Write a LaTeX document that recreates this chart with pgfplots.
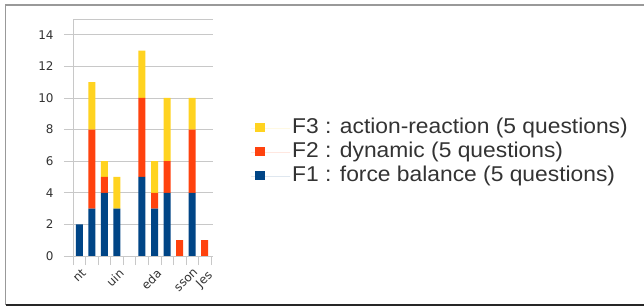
\documentclass[border=0pt]{standalone}
\usepackage{pgfplots}
\pgfplotsset{compat=1.18}
\usepackage{fontspec}
\setmainfont{Liberation Sans}
\newfontfamily\legfont[FakeStretch=1.065]{Liberation Sans}
\newfontfamily\tickfont{DejaVu Sans}
\definecolor{lblue}{HTML}{004586}
\definecolor{lred}{HTML}{FF420E}
\definecolor{lyellow}{HTML}{FFD320}
\definecolor{gridc}{HTML}{C8C8C8}
\begin{document}
\begin{tikzpicture}
\useasboundingbox (0,0) rectangle (644bp,307bp);
\fill[white] (0,0) rectangle (644bp,307bp);
\draw[gray!80, line width=1.6bp] (644bp,302bp) -- (5.5bp,302bp) -- (5.5bp,2bp);
\draw[black!85, line width=1.6bp] (5.5bp,2bp) -- (644bp,2bp);
\begin{axis}[
  at={(73bp,51bp)}, anchor=south west,
  scale only axis, width=140bp, height=237bp,
  xmin=0.5, xmax=11.66, ymin=0, ymax=15,
  clip mode=individual,
  ybar stacked, bar width=7bp,
  axis x line*=bottom, axis y line*=left,
  axis line style={gridc, -},
  ytick={0,2,...,14},
  ymajorgrids, grid style={gridc, line width=0.6bp},
  extra y ticks={15}, extra y tick labels={},
  extra y tick style={grid=major, tick style={draw=none}},
  tick align=outside, major tick length=9bp,
  tick style={gridc, line width=0.6bp},
  xtick={0.5,1.5,...,11.5}, xticklabels={},
  extra x ticks={1,4,7,10},
  extra x tick labels={nt,uin,eda,sson},
  extra x tick style={tick style={draw=none}, grid=none,
     tick label style={rotate=45, anchor=north east, inner sep=1bp, yshift=-2bp, xshift=0bp}},
  x tick label style={font=\tickfont\fontsize{12}{14}\selectfont, text=black!80},
  y tick label style={font=\tickfont\fontsize{12}{14}\selectfont, text=black!80, xshift=-7bp},
  /pgf/number format/assume math mode=true,
  legend style={at={(1.25,0.598)}, anchor=north west, draw=none, fill=none,
     font=\legfont\fontsize{21.5}{24}\selectfont, text=black!80,
     nodes={text height=15.5bp, text depth=4.5bp, inner ysep=2bp}},
  legend cell align=left,
  reverse legend,
  legend image code/.code={\path (0bp,0bp) -- (39bp,0bp); \fill[#1] (4bp,-3.5bp) rectangle (14bp,5bp);},
]
\addplot[fill=lblue, draw=none] coordinates {(1,2) (2,3) (3,4) (4,3) (5,0) (6,5) (7,3) (8,4) (9,0) (10,4) (11,0)};
\addlegendentry{F1 : force balance (5 questions)}
\addplot[fill=lred, draw=none] coordinates {(1,0) (2,5) (3,1) (4,0) (5,0) (6,5) (7,1) (8,2) (9,1) (10,4) (11,1)};
\addlegendentry{F2 : dynamic (5 questions)}
\addplot[fill=lyellow, draw=none] coordinates {(1,0) (2,3) (3,1) (4,2) (5,0) (6,3) (7,2) (8,4) (9,0) (10,2) (11,0)};
\addlegendentry{F3 : action-reaction (5 questions)}
\node[rotate=45, anchor=base west, font=\tickfont\fontsize{12}{14}\selectfont, text=black!80] at (axis cs:10.5,-2.2) {Jes};
\end{axis}
\end{tikzpicture}
\end{document}
